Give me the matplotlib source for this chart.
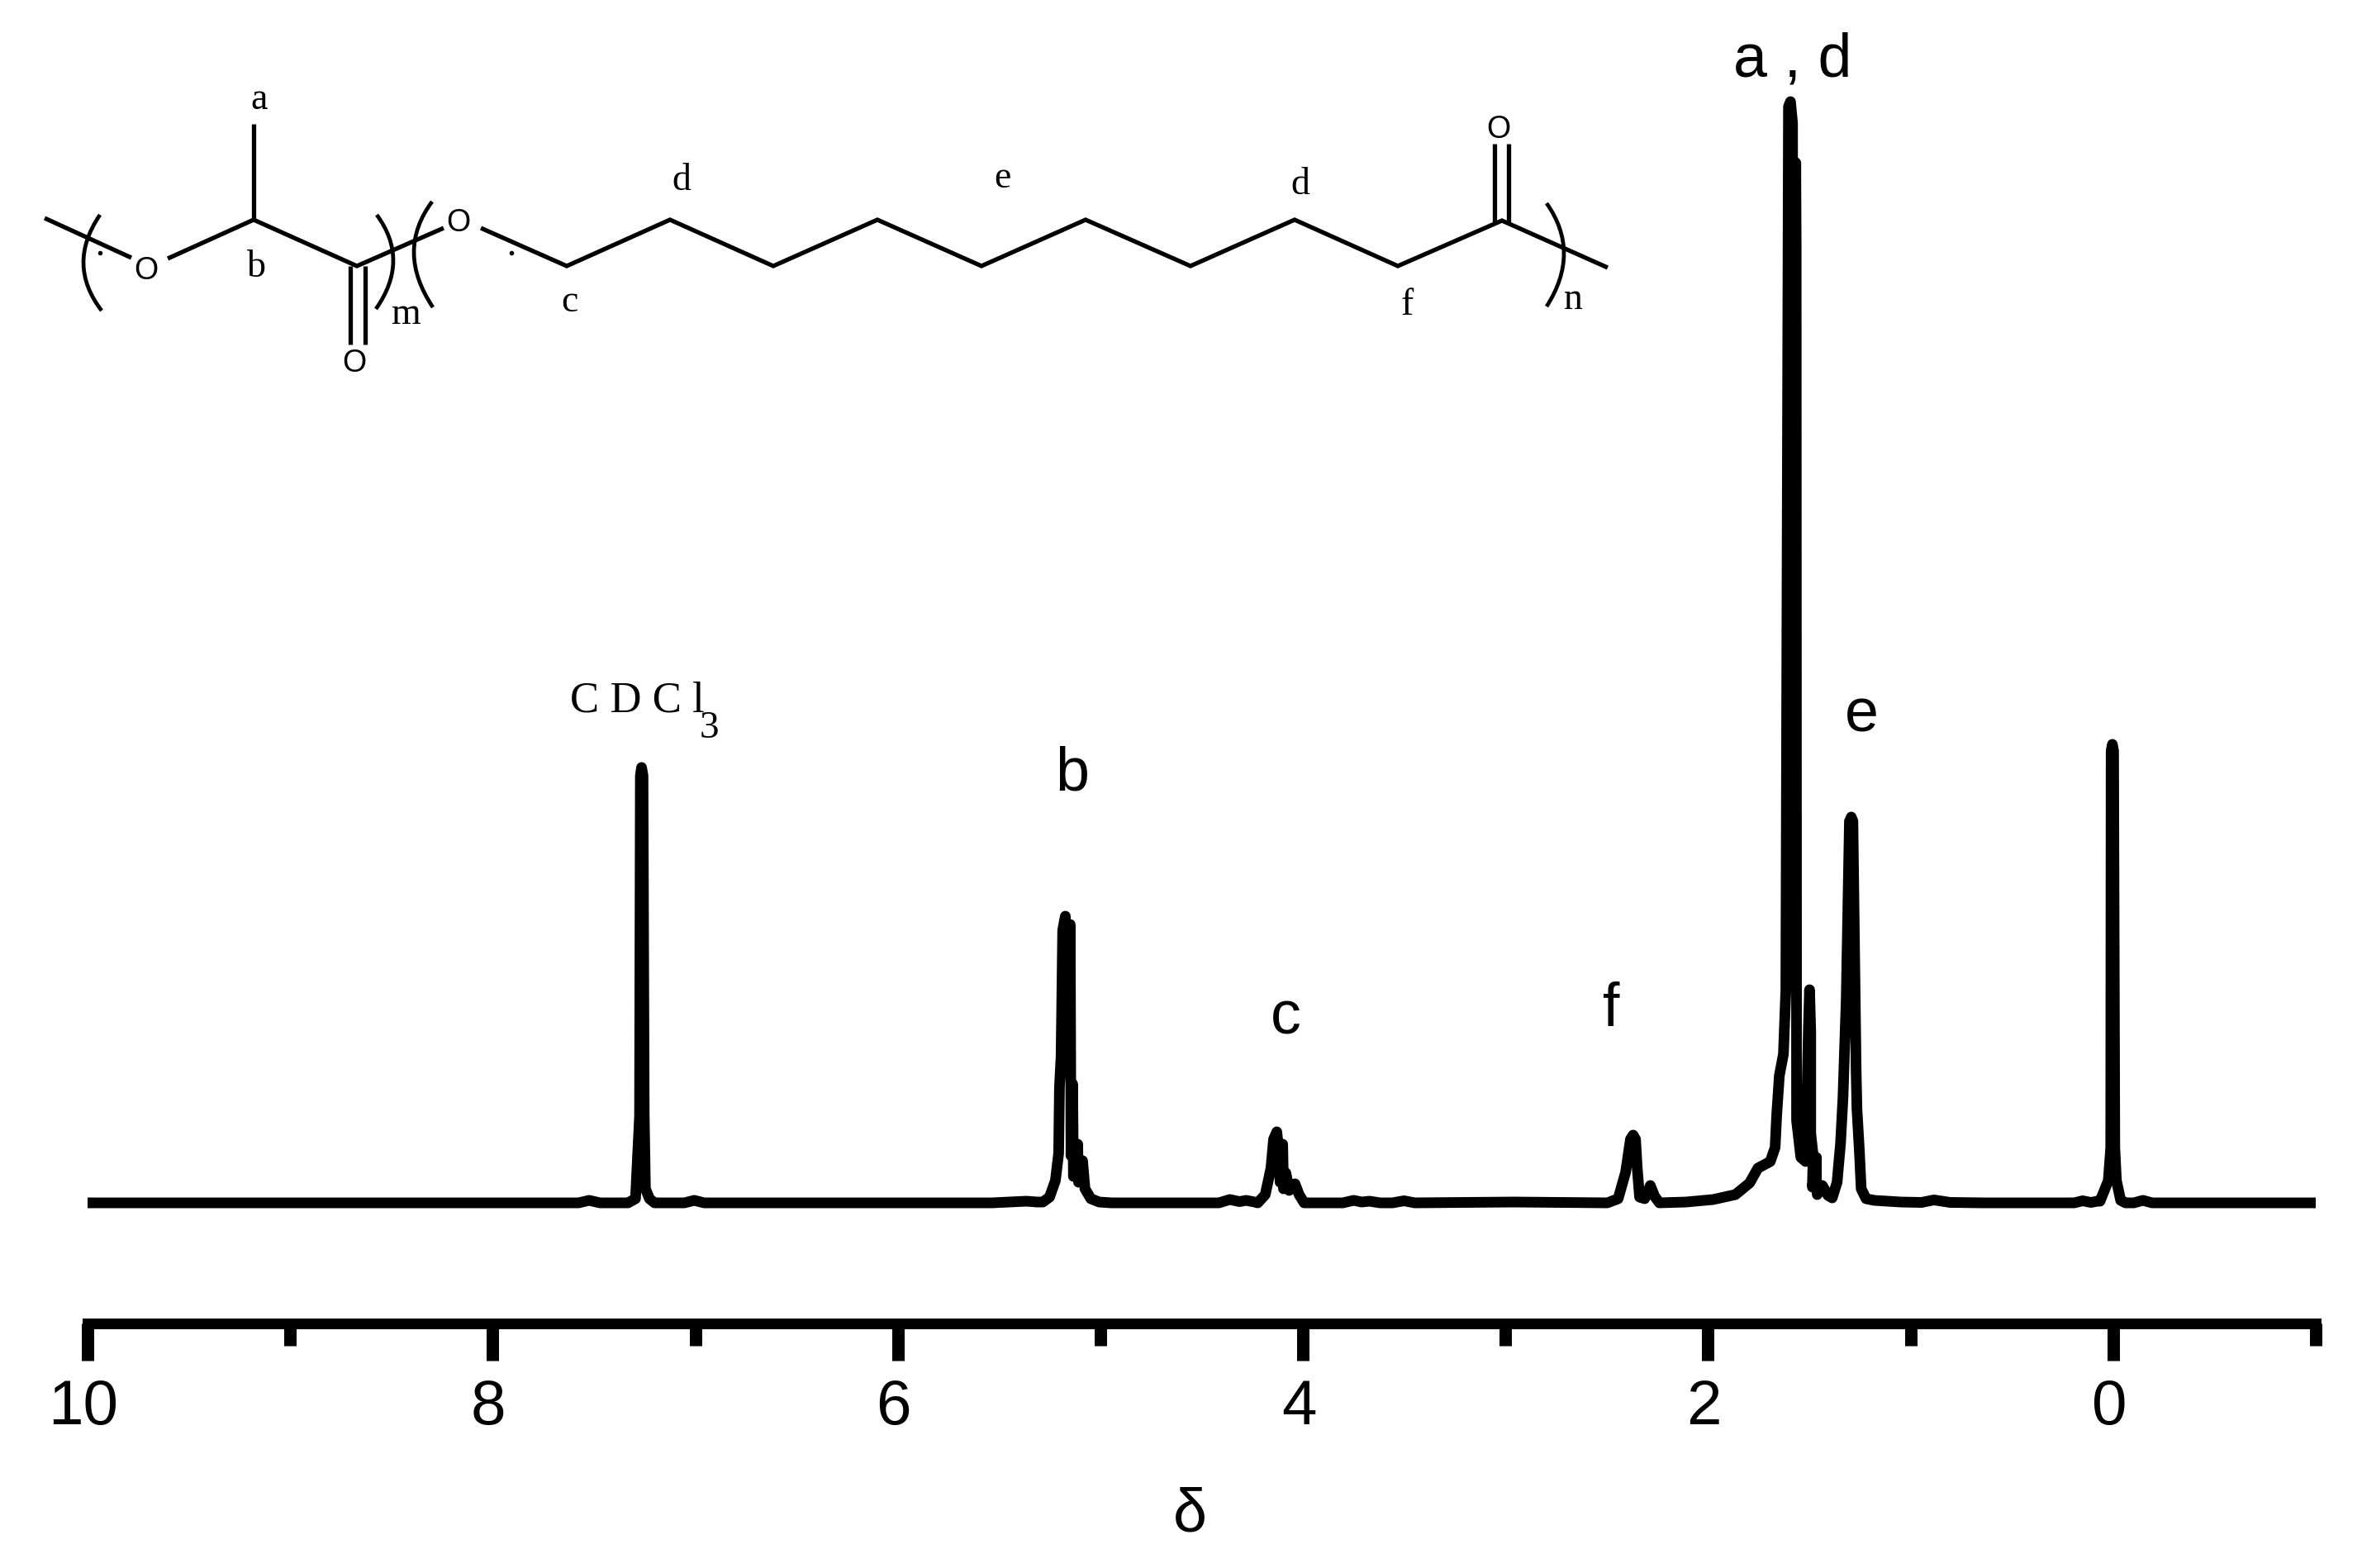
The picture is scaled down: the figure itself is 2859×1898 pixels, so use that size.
import matplotlib
matplotlib.use("Agg")
import matplotlib.pyplot as plt
from matplotlib.lines import Line2D
from matplotlib.patches import PathPatch
from matplotlib.path import Path
from matplotlib.transforms import ScaledTranslation

# ---------- spectrum ----------
delta_ppm = [
    10.00, 7.576, 7.524, 7.470, 7.332, 7.295, 7.275, 7.271, 7.265, 7.258, 7.252, 7.246, 7.226, 7.201,
    7.054, 7.005, 6.956, 5.537, 5.365, 5.312,
    5.284, 5.251, 5.222, 5.206, 5.202, 5.194, 5.186, 5.173, 5.161, 5.149, 5.145, 5.137, 5.133, 5.112,
    5.108, 5.088, 5.076, 5.047, 5.006, 4.945,
    4.415, 4.361, 4.313, 4.280, 4.239,
    4.223, 4.186, 4.158, 4.145, 4.129, 4.117, 4.113, 4.100, 4.096, 4.084, 4.068, 4.039, 4.019, 3.994,
    3.803, 3.750, 3.709, 3.672, 3.619, 3.558, 3.501, 3.448, 2.958,
    2.497, 2.444, 2.407, 2.383, 2.370, 2.358, 2.350, 2.338, 2.313, 2.285, 2.264, 2.240,
    2.109, 1.975, 1.865, 1.795, 1.754, 1.693, 1.669, 1.661, 1.648, 1.628, 1.616, 1.603, 1.593, 1.583,
    1.579, 1.567, 1.565, 1.563, 1.542, 1.518, 1.505, 1.499, 1.493, 1.493, 1.481, 1.485, 1.465, 1.465,
    1.461, 1.436, 1.408, 1.387, 1.363, 1.346, 1.334, 1.318, 1.302, 1.293, 1.285, 1.269, 1.265, 1.253,
    1.244, 1.220, 1.179, 1.049, 0.947, 0.885, 0.804, 0.641,
    0.192, 0.151, 0.110, 0.078, 0.065, 0.024, 0.012, 0.010, 0.004, -0.002, -0.008, -0.016, -0.037, -0.061,
    -0.102, -0.147, -0.192, -1.00,
]
intensity = [
    0, 0, 0.3, 0, 0, 0.5, 10.5, 51.7, 52.7, 51.7, 10.7, 1.7, 0.5, 0,
    0, 0.3, 0, 0, 0.2, 0.1,
    0.1, 0.7, 2.7, 6.0, 14.0, 17.7, 33.0, 34.7, 15.7, 33.7, 5.7, 14.4, 3.2, 7.1,
    2.5, 5.1, 1.7, 0.5, 0.1, 0,
    0, 0.4, 0.15, 0.3, 0.1,
    0, 1.0, 4.2, 7.7, 8.6, 5.7, 2.5, 7.1, 1.7, 3.6, 1.5, 2.3, 1.0, 0,
    0, 0.3, 0.1, 0.2, 0, 0, 0.25, 0, 0.1,
    0, 0.5, 3.7, 7.7, 8.2, 7.7, 4.3, 0.7, 0.5, 2.1, 0.8, 0,
    0.1, 0.4, 1.0, 2.4, 4.2, 5.0, 6.7, 10.7, 15.4, 18.0, 25.7, 132.7, 133.3, 130.7,
    55.7, 125.9, 115.7, 10.0, 5.5, 5.0, 20.7, 25.8, 20.7, 8.4, 5.7, 1.9, 5.5, 2.7,
    1.0, 2.1, 0.9, 0.6, 2.5, 7.2, 12.7, 24.5, 46.2, 46.7, 46.2, 16.0, 11.4, 6.3,
    1.7, 0.5, 0.3, 0.1, 0.05, 0.35, 0.05, 0,
    0, 0.25, 0.05, 0.2, 0.2, 2.7, 6.7, 54.7, 55.5, 54.7, 6.7, 2.7, 0.3, 0,
    0, 0.3, 0, 0,
]
major_ticks = [10, 8, 6, 4, 2, 0]
minor_ticks = [9, 7, 5, 3, 1, -1]
tick_labels = ["10", "8", "6", "4", "2", "0"]
x_label = "δ"

# ---------- peak assignments: text, x px, baseline y px ----------
peak_labels = [("a , d", 2170, 93), ("b", 1298, 957), ("c", 1556, 1251),
               ("f", 1950, 1242), ("e", 2253, 886)]

# ---------- structural formula, in image pixels ----------
bonds = [
    [(54, 265), (159, 313)],
    [(203, 314), (307, 267), (432, 323), (537, 277)],
    [(307, 267), (307, 151)],
    [(424, 323), (424, 418)],
    [(442, 323), (442, 418)],
    [(582, 277), (686, 323), (811, 267), (936, 323), (1062, 267), (1188, 323), (1314, 267),
     (1441, 323), (1567, 267), (1692, 323), (1818, 268), (1946, 325)],
    [(1809, 272), (1809, 175)],
    [(1826, 272), (1826, 175)],
]
parens = [
    [(121, 261), (101, 320), (123, 377)],
    [(456, 261), (476, 317), (455, 375)],
    [(523, 245), (501, 307), (524, 373)],
    [(1872, 247), (1893, 308), (1872, 372)],
]
dots = [(121, 307), (619, 307)]
atoms = [("O", 177, 338), ("O", 429, 450), ("O", 555, 280), ("O", 1814, 167)]
site_labels = [("a", 314, 132), ("b", 310, 335), ("c", 689, 377), ("d", 825, 230), ("m", 492, 392),
               ("e", 1213, 227), ("d", 1574, 235), ("f", 1703, 381), ("n", 1904, 374)]

W, H = 2859, 1899
SANS = "Liberation Sans"
SERIF = "Liberation Serif"


def P(x, y):
    return x / W, 1 - y / H


fig = plt.figure(figsize=(W / 100, H / 100), dpi=100, facecolor="white")
AX_L, AX_R, AX_B = 106, 2803, 1603
ax = fig.add_axes([AX_L / W, 1 - AX_B / H, (AX_R - AX_L) / W, AX_B / H])
ax.set_xlim(10, -1)
ax.set_ylim(-14.6, 145.7)
ax.patch.set_alpha(0)
for s in ("top", "left", "right"):
    ax.spines[s].set_visible(False)
ax.spines["bottom"].set_linewidth(9.3)
ax.yaxis.set_visible(False)

ax.plot(delta_ppm, intensity, color="black", lw=9.3,
        solid_joinstyle="round", solid_capstyle="butt", clip_on=False)

ax.set_xticks(major_ticks)
ax.set_xticklabels(tick_labels, fontfamily=SANS, fontsize=55)
ax.set_xticks(minor_ticks, minor=True)
ax.tick_params(axis="x", which="major", length=32.4, width=10.8, pad=15, color="black")
ax.tick_params(axis="x", which="minor", length=19.4, width=10.8, color="black")
shift = ScaledTranslation(-5 / 100, 0, fig.dpi_scale_trans)
for lab in ax.get_xticklabels():
    lab.set_transform(lab.get_transform() + shift)

ax.set_xlabel(x_label, fontfamily=SANS, fontsize=53, va="baseline")
ax.xaxis.set_label_coords((1440 - AX_L) / (AX_R - AX_L), (AX_B - 1854) / AX_B)

for txt, x, y in peak_labels:
    fig.text(*P(x, y), txt, fontfamily=SANS, fontsize=53, ha="center", va="baseline")

fig.text(*P(690, 862), "C D C l", fontfamily=SERIF, fontsize=38, ha="left", va="baseline")
fig.text(*P(858, 893), "3", fontfamily=SERIF, fontsize=34, ha="center", va="baseline")

# structural formula
for pts in bonds:
    xs, ys = zip(*[P(*p) for p in pts])
    fig.add_artist(Line2D(xs, ys, transform=fig.transFigure, color="black", lw=3.8,
                          solid_joinstyle="miter", solid_capstyle="butt"))
for (p0, mid, p2) in parens:
    ctrl = (2 * mid[0] - (p0[0] + p2[0]) / 2, 2 * mid[1] - (p0[1] + p2[1]) / 2)
    path = Path([P(*p0), P(*ctrl), P(*p2)], [Path.MOVETO, Path.CURVE3, Path.CURVE3])
    fig.add_artist(PathPatch(path, transform=fig.transFigure, fc="none", ec="black", lw=3.4))
for x, y in dots:
    fig.add_artist(Line2D([P(x, y)[0]], [P(x, y)[1]], transform=fig.transFigure, marker="o",
                          ms=3.0, color="black", ls="none"))
for txt, x, y in atoms:
    fig.text(*P(x, y), txt, fontfamily=SANS, fontsize=27, ha="center", va="baseline")
for txt, x, y in site_labels:
    fig.text(*P(x, y), txt, fontfamily=SERIF, fontsize=33, ha="center", va="baseline")

fig.savefig("out.png", dpi=100, facecolor="white")
